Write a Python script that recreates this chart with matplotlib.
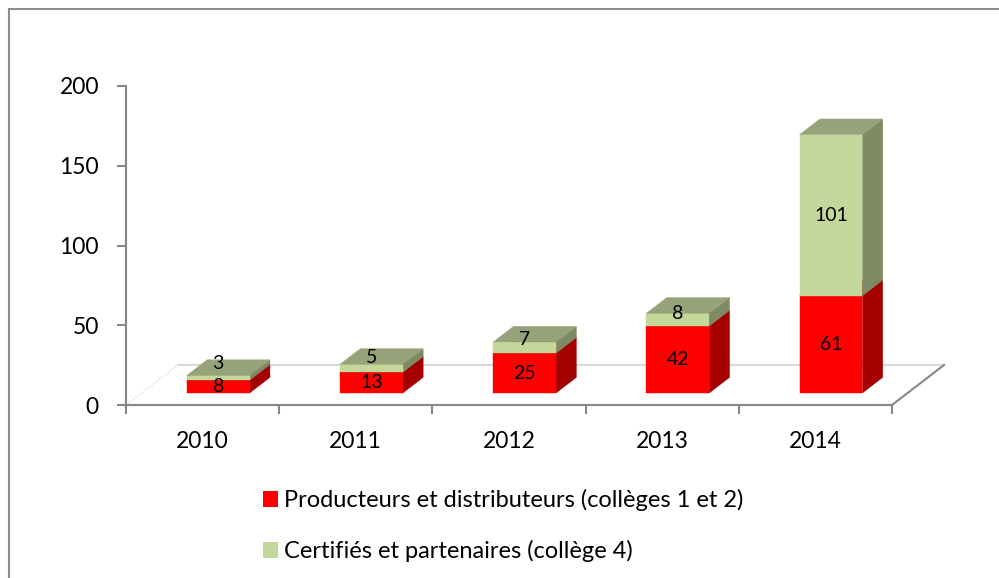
import matplotlib
matplotlib.use('Agg')
import matplotlib.pyplot as plt
from matplotlib.patches import Polygon, Patch, Rectangle
import numpy as np

years = ['2010', '2011', '2012', '2013', '2014']
producteurs = [8, 13, 25, 42, 61]
certifies = [3, 5, 7, 8, 101]
series_names = ['Producteurs et distributeurs (collèges 1 et 2)',
                'Certifiés et partenaires (collège 4)']
y_ticks = [0, 50, 100, 150, 200]

# front / side / top colours of each series
red_front, red_side, red_top = '#FF0000', '#A50000', '#C00000'
green_front, green_side, green_top = '#C4D79B', '#7E8A62', '#98A27A'
gray = '#878787'

plt.rcParams['font.family'] = ['Lato', 'DejaVu Sans']

W, H = 999, 578
fig = plt.figure(figsize=(W / 100, H / 100), dpi=100)
ax = fig.add_axes([126 / W, 1 - 405 / H, (892 - 126) / W, (405 - 86) / H])
ax.set_xlim(-0.5, 4.5)
ax.set_ylim(0, 200)

# fake 3d: floor depth vector in data units, bars sit between two depths
floor_dx, floor_dy = 0.34, 25.1
d0, d1 = 0.30, 0.69
half = 0.205


def proj(x, y, d):
    return (x + d * floor_dx, y + d * floor_dy)


def box(xc, y0, y1, front, side, top):
    xl, xr = xc - half, xc + half
    f = [proj(xl, y0, d0), proj(xr, y0, d0), proj(xr, y1, d0), proj(xl, y1, d0)]
    s = [proj(xr, y0, d0), proj(xr, y0, d1), proj(xr, y1, d1), proj(xr, y1, d0)]
    t = [proj(xl, y1, d0), proj(xr, y1, d0), proj(xr, y1, d1), proj(xl, y1, d1)]
    for pts, c in [(s, side), (f, front), (t, top)]:
        ax.add_patch(Polygon(pts, closed=True, fc=c, ec=c, lw=0.3,
                             clip_on=False, zorder=3))


# floor edges
ax.plot([-0.5 + floor_dx, 4.5 + floor_dx], [floor_dy, floor_dy],
        color='#d9d9d9', lw=1.5, clip_on=False, zorder=1)
ax.plot([-0.5, -0.5 + floor_dx], [0, floor_dy], color='#cfcfcf', lw=0.8,
        ls=':', clip_on=False, zorder=1)
ax.plot([4.5, 4.5 + floor_dx], [0, floor_dy], color=gray, lw=1.5,
        clip_on=False, zorder=2)

for i in range(len(years)):
    p, c = producteurs[i], certifies[i]
    box(i, 0, p, red_front, red_side, red_top)
    box(i, p, p + c, green_front, green_side, green_top)

    xc, base = proj(i, 0, d0)
    ax.text(xc, base + p / 2, str(p), ha='center', va='center',
            fontsize=14, zorder=5)
    # small segments: label pushed up a little like Excel does
    ax.text(xc, base + p + c / 2 + max(0, 12 - c), str(c), ha='center',
            va='center', fontsize=14, zorder=5)

for s in ['top', 'right']:
    ax.spines[s].set_visible(False)
for s in ['left', 'bottom']:
    ax.spines[s].set_color(gray)
    ax.spines[s].set_linewidth(1.5)

ax.set_yticks(y_ticks)
ax.tick_params(axis='y', length=6.5, width=1.5, color=gray, pad=13,
               labelsize=16.5)
ax.set_xticks(range(len(years)))
ax.set_xticklabels(years)
ax.set_xticks(np.arange(-0.5, len(years), 1), minor=True)
ax.tick_params(axis='x', which='major', length=0, pad=19, labelsize=16.5)
ax.tick_params(axis='x', which='minor', length=6.5, width=1.5, color=gray)
ax.patch.set_visible(False)

handles = [Patch(fc=red_front), Patch(fc=green_front)]
fig.legend(handles, series_names, loc='upper left',
           bbox_to_anchor=(263 / W, 1 - 489 / H), frameon=False,
           fontsize=17, handlelength=0.64, handleheight=0.64,
           handletextpad=0.25, labelspacing=1.23, borderpad=0,
           borderaxespad=0)

# chart area border
fig.add_artist(Rectangle((9 / W, -0.05), 1.2, 1.05 - 9 / H,
                         transform=fig.transFigure, fill=False,
                         ec='#8c8c8c', lw=1.5))

fig.savefig('out.png', dpi=100)
